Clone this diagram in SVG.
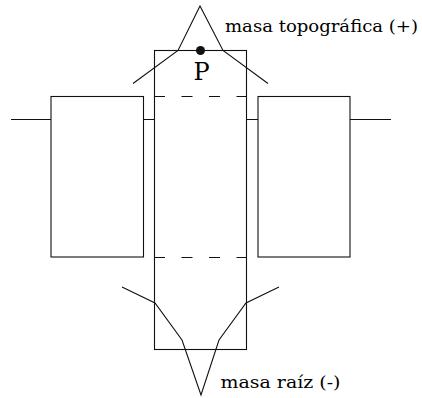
<svg xmlns="http://www.w3.org/2000/svg" width="422" height="398" viewBox="0 0 422 398">
<style>
.l{fill:none;stroke:#111;stroke-width:1.1}
.d{fill:none;stroke:#111;stroke-width:1.1;stroke-dasharray:11 16.500}
.t{font-family:"DejaVu Serif","Liberation Serif",serif;fill:#000}
</style>
<rect width="422" height="398" fill="#fff"/>
<g id="connectors">
<path class="l" d="M11 119.500H51M143.500 119.500H154.500M246.500 119.500H258M350 119.500H391"/>
<path class="d" d="M154 96.500H247M154 257.500H247"/>
<path class="l" d="M133 83.500L178 50.500L200 6L223 50.500L268 83.500"/>
<path class="l" d="M122 287L155 303L182 340L201 395L219 340L246 303L279 287"/>
</g>
<g id="bloque-izquierdo"><rect class="l" x="51" y="96.500" width="92.500" height="160.500"/></g>
<g id="bloque-central"><rect class="l" x="154.500" y="50.500" width="92" height="299"/></g>
<g id="bloque-derecho"><rect class="l" x="258" y="96.500" width="92" height="160.500"/></g>
<g id="punto-p">
<circle cx="200.500" cy="50.500" r="4.500" fill="#111"/>
<text class="t" x="193.500" y="80" font-size="24">P</text>
</g>
<g id="etiqueta-topografica"><text class="t" x="225" y="32" font-size="17.500" textLength="193" lengthAdjust="spacingAndGlyphs">masa topográfica (+)</text></g>
<g id="etiqueta-raiz"><text class="t" x="220.500" y="388" font-size="17.500" textLength="120" lengthAdjust="spacingAndGlyphs">masa raíz (-)</text></g>
</svg>
